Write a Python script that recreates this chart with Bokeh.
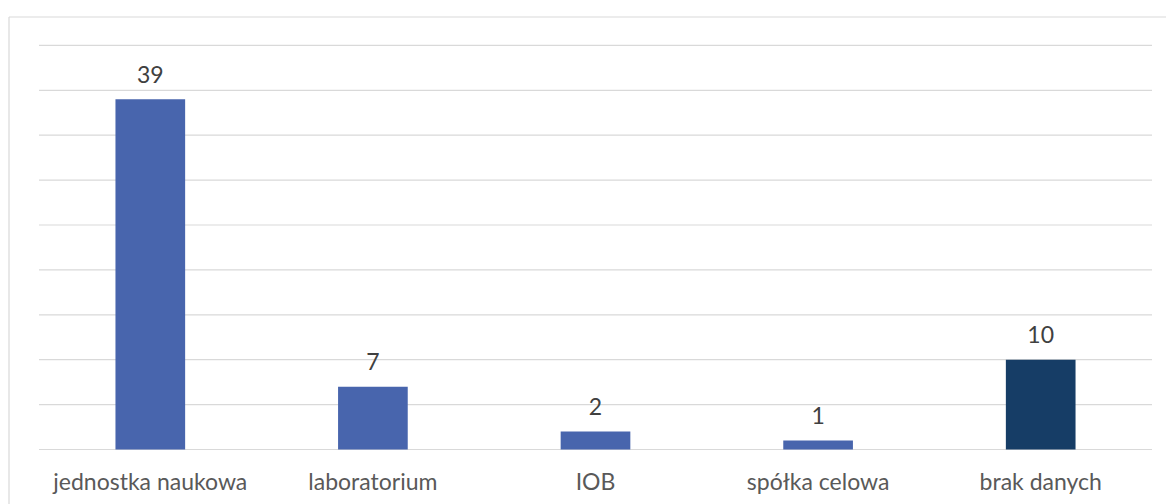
from bokeh.plotting import figure
from bokeh.models import Range1d, ColumnDataSource
from bokeh.core.properties import value
from bokeh.embed import file_html
from bokeh.resources import INLINE

# ---- data ----
categories = ["jednostka naukowa", "laboratorium", "IOB", "spółka celowa", "brak danych"]
counts = [39, 7, 2, 1, 10]
grid_values = [0, 5, 10, 15, 20, 25, 30, 35, 40, 45]
bar_colors = ["#4865AD", "#4865AD", "#4865AD", "#4865AD", "#163D66"]

# ---- geometry (pixels) ----
W, H = 1166, 504
px_per_unit = 8.98
base_px = 449          # canvas y of the zero line
cat_px = 222.6         # width of one category slot
left_px = 38.5         # canvas x where the first slot starts

x_start = -left_px / cat_px
x_end = (W - left_px) / cat_px
y_start = -(H - base_px) / px_per_unit
y_end = base_px / px_per_unit

p = figure(width=W, height=H,
           x_range=Range1d(x_start, x_end), y_range=Range1d(y_start, y_end),
           output_backend="svg", toolbar_location=None,
           x_axis_location=None, y_axis_location=None,
           min_border=0, title=None)
p.grid.visible = False
p.outline_line_color = None
p.background_fill_color = "white"
p.border_fill_color = "white"

n = len(categories)
xs = [i + 0.5 for i in range(n)]

# chart border (top and left edges visible)
border_top = (base_px - 16.5) / px_per_unit
border_left = (8.5 - left_px) / cat_px
p.segment(x0=[border_left, border_left], y0=[border_top, border_top],
          x1=[x_end + 1, border_left], y1=[border_top, y_start - 1],
          line_color="#D9D9D9", line_width=1.2)

# gridlines
p.segment(x0=[0] * len(grid_values), y0=grid_values,
          x1=[n] * len(grid_values), y1=grid_values,
          line_color="#D9D9D9", line_width=1.2)

src = ColumnDataSource(dict(x=xs, top=counts, color=bar_colors,
                            cat=categories, lab=[str(v) for v in counts]))

p.vbar(x="x", top="top", bottom=0, width=0.313, source=src,
       fill_color="color", line_color=None)

p.text(x="x", y="top", text="lab", source=src,
       text_align="center", text_baseline="alphabetic", y_offset=-25,
       text_font=value("Lato"), text_font_size="23px", text_color="#404040")

p.text(x="x", y=0, text="cat", source=src,
       text_align="center", text_baseline="alphabetic", y_offset=31,
       text_font=value("Lato"), text_font_size="23px", text_color="#595959")

open("out.html", "w").write(file_html(p, INLINE))
